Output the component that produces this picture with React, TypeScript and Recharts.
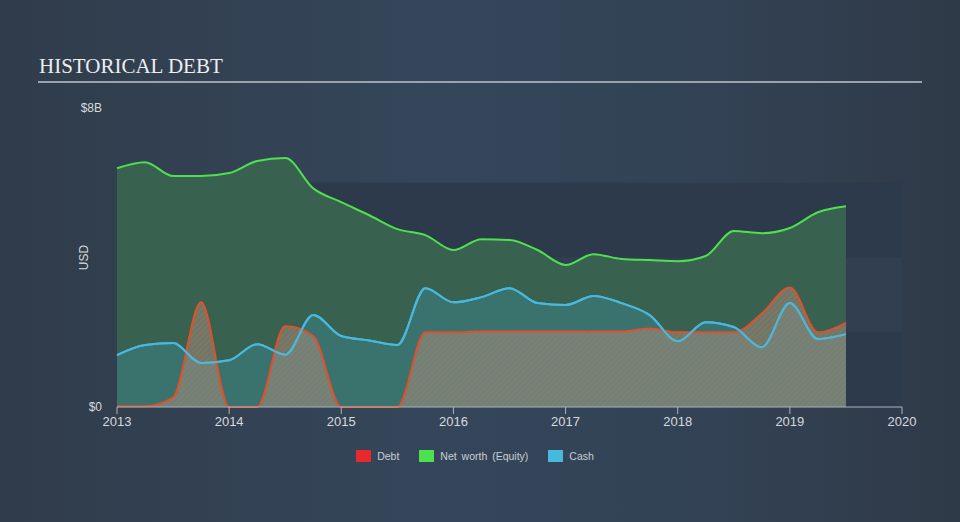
import React from 'react';
import { ComposedChart, Area, Line, XAxis, YAxis, ReferenceArea } from 'recharts';

// quarterly points, values in $B
const periods = [
  2013, 2013.25, 2013.5, 2013.75, 2014, 2014.25, 2014.5, 2014.75, 2015, 2015.25, 2015.5, 2015.75,
  2016, 2016.25, 2016.5, 2016.75, 2017, 2017.25, 2017.5, 2017.75, 2018, 2018.25, 2018.5, 2018.75,
  2019, 2019.25, 2019.5,
];
const debt = [
  0.02, 0.02, 0.25, 2.8, 0, 0, 2.17, 1.9, 0, 0, 0, 2.0,
  2.0, 2.02, 2.02, 2.02, 2.02, 2.02, 2.02, 2.1, 2.0, 2.0, 2.0, 2.5,
  3.2, 2.0, 2.25,
];
const equity = [
  6.39, 6.55, 6.18, 6.18, 6.26, 6.58, 6.66, 5.85, 5.48, 5.13, 4.76, 4.6,
  4.2, 4.49, 4.47, 4.2, 3.8, 4.09, 3.96, 3.93, 3.9, 4.04, 4.71, 4.65,
  4.79, 5.21, 5.37,
];
const cash = [
  1.39, 1.66, 1.71, 1.18, 1.25, 1.68, 1.4, 2.46, 1.9, 1.78, 1.66, 3.18,
  2.8, 2.94, 3.18, 2.78, 2.73, 2.97, 2.78, 2.46, 1.76, 2.27, 2.14, 1.6,
  2.78, 1.82, 1.95,
];
const xTicks = [2013, 2014, 2015, 2016, 2017, 2018, 2019, 2020];
const yTicks = [0, 8];
const bands = [
  { from: 0, to: 2, fill: '#2d3a4b' },
  { from: 2, to: 4, fill: '#313f50' },
  { from: 4, to: 6, fill: '#2d3a4b' },
];
const legendItems = [
  { label: 'Debt', color: '#e8282b' },
  { label: 'Net worth (Equity)', color: '#4fe04f' },
  { label: 'Cash', color: '#47b8de' },
];

const data = periods.map((t, i) => ({ t, debt: debt[i], equity: equity[i], cash: cash[i] }));

const FONT = '"Liberation Sans", Arial, sans-serif';

function LegendBox() {
  return (
    <div
      style={{
        position: 'absolute',
        left: 0,
        top: 450,
        width: 950,
        display: 'flex',
        justifyContent: 'center',
        gap: 20,
        fontFamily: FONT,
        fontSize: 10.5,
        color: '#c9ced4',
      }}
    >
      {legendItems.map(it => (
        <div key={it.label} style={{ display: 'flex', alignItems: 'center', gap: 6 }}>
          <span style={{ display: 'inline-block', width: 15, height: 12, background: it.color }} />
          <span style={{ wordSpacing: 2 }}>{it.label}</span>
        </div>
      ))}
    </div>
  );
}

export default function App() {
  return (
    <div
      style={{
        position: 'fixed',
        left: 0,
        top: 0,
        width: 960,
        height: 522,
        background: 'linear-gradient(90deg, #303c4b 0%, #35465a 45%, #334356 70%, #2f3a48 100%)',
        overflow: 'hidden',
      }}
    >
      <div
        style={{
          position: 'absolute',
          left: 39,
          top: 56,
          fontFamily: '"Liberation Serif", "Times New Roman", serif',
          fontSize: 21,
          lineHeight: 1,
          color: '#eceef0',
        }}
      >
        HISTORICAL DEBT
      </div>
      <div style={{ position: 'absolute', left: 38, top: 81, width: 884, height: 2, background: '#9aa3ad' }} />
      <ComposedChart
        width={960}
        height={522}
        data={data}
        margin={{ top: 108, right: 58, bottom: 85, left: 51 }}
        style={{ position: 'absolute', left: 0, top: 0 }}
      >
        <defs>
          <pattern id="debtHatch" width="4" height="4" patternUnits="userSpaceOnUse" patternTransform="rotate(45)">
            <rect width="4" height="4" fill="rgba(165,160,150,0.4)" />
            <line x1="1" y1="0" x2="1" y2="4" stroke="#d9643f" strokeWidth="1.3" strokeOpacity="0.45" />
          </pattern>
        </defs>
        {bands.map(b => (
          <ReferenceArea key={b.from} x1={2013} x2={2020} y1={b.from} y2={b.to} fill={b.fill} fillOpacity={1} stroke="none" />
        ))}
        <XAxis
          dataKey="t"
          type="number"
          domain={[2013, 2020]}
          ticks={xTicks}
          height={30}
          tickSize={7}
          tickMargin={3}
          stroke="#a9b3be"
          tick={{ fill: '#d6dadf', fontSize: 13, fontFamily: FONT }}
        />
        <YAxis
          type="number"
          domain={[0, 8]}
          ticks={yTicks}
          width={66}
          axisLine={false}
          tickLine={false}
          tickSize={0}
          tickMargin={15}
          tickFormatter={v => (v === 0 ? '$0' : `$${v}B`)}
          tick={{ fill: '#d6dadf', fontSize: 12, fontFamily: FONT }}
          label={{ value: 'USD', angle: -90, position: 'center', fill: '#d6dadf', fontSize: 12, fontFamily: FONT }}
        />
        <Area
          type="monotone"
          dataKey="equity"
          stroke="#4fe04f"
          strokeWidth={2}
          fill="#3a6350"
          fillOpacity={0.95}
          dot={false}
          activeDot={false}
          isAnimationActive={false}
        />
        <Area
          type="monotone"
          dataKey="cash"
          stroke="#47b8de"
          strokeWidth={2}
          fill="#3a736e"
          fillOpacity={1}
          dot={false}
          activeDot={false}
          isAnimationActive={false}
        />
        <Area
          type="monotone"
          dataKey="debt"
          stroke="#e0502c"
          strokeWidth={2}
          fill="url(#debtHatch)"
          fillOpacity={1}
          dot={false}
          activeDot={false}
          isAnimationActive={false}
        />
        <Line
          type="monotone"
          dataKey="cash"
          stroke="#47b8de"
          strokeWidth={2}
          dot={false}
          activeDot={false}
          legendType="none"
          isAnimationActive={false}
        />
      </ComposedChart>
      <LegendBox />
    </div>
  );
}
